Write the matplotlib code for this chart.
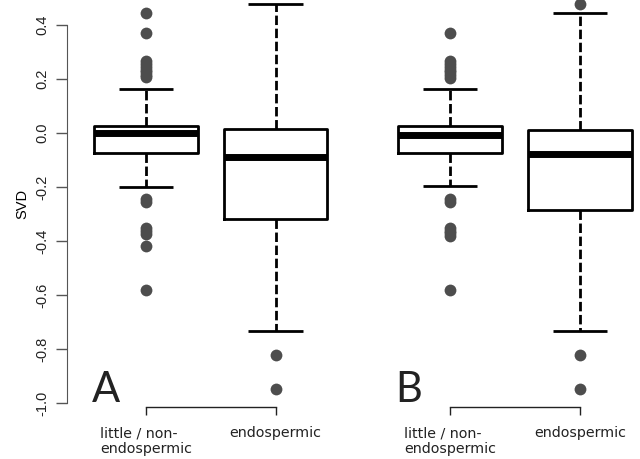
import numpy as np
import matplotlib.pyplot as plt

# values
groups = ['little / non-\nendospermic', 'endospermic']
yticks = [-1.0, -0.8, -0.6, -0.4, -0.2, 0.0, 0.2, 0.4]

# panel A
a_med = [-0.001, -0.090]
a_q1 = [-0.075, -0.319]
a_q3 = [0.026, 0.013]
a_lo = [-0.200, -0.733]
a_hi = [0.163, 0.478]
a_fliers = [[0.446, 0.371, 0.265, 0.255, 0.245, 0.235, 0.225, 0.215, 0.206,
             -0.246, -0.257, -0.352, -0.362, -0.374, -0.417, -0.581],
            [-0.822, -0.949]]

# panel B
b_med = [-0.009, -0.078]
b_q1 = [-0.075, -0.285]
b_q3 = [0.026, 0.011]
b_lo = [-0.197, -0.733]
b_hi = [0.163, 0.443]
b_fliers = [[0.371, 0.265, 0.255, 0.245, 0.235, 0.225, 0.213, 0.202,
             -0.246, -0.257, -0.352, -0.362, -0.372, -0.380, -0.581],
            [0.478, -0.822, -0.949]]

W, H = 640, 459
fig = plt.figure(figsize=(W/100, H/100), dpi=100)

def px_y(p):  # pixel row -> data value
    return (133 - p) / 270.0

bottom = (H - 407) / H

# (left px, right px, px of group 1, px per group step)
layout = {'A': (67, 355, 146, 129.5), 'B': (371, 640, 450, 130.0)}
letter_px = {'A': 92, 'B': 395}

def draw(letter, med, q1, q3, lo, hi, fl):
    l, r, c1, step = layout[letter]
    ax = fig.add_axes([l/W, bottom, (r-l)/W, 1 - bottom])
    stats = []
    for i in range(2):
        stats.append(dict(med=med[i], q1=q1[i], q3=q3[i], whislo=lo[i],
                          whishi=hi[i], fliers=fl[i]))
    ax.bxp(stats, positions=[1, 2], widths=0.8, capwidths=0.42,
           boxprops=dict(color='black', lw=2.0),
           whiskerprops=dict(color='black', lw=2.0, linestyle=(0, (3.4, 1.3))),
           capprops=dict(color='black', lw=2.0, solid_capstyle='butt'),
           medianprops=dict(color='black', lw=5.0, solid_capstyle='butt'),
           flierprops=dict(marker='o', markerfacecolor='#4d4d4d',
                           markeredgecolor='none', markersize=8.5),
           manage_ticks=False)
    ax.set_xlim(1 + (l - c1)/step, 1 + (r - c1)/step)
    ax.set_ylim(px_y(407), px_y(0))
    for s in ['top', 'right']:
        ax.spines[s].set_visible(False)
    ax.spines['bottom'].set_bounds(1, 2)
    ax.spines['bottom'].set_color('#222222')
    ax.spines['bottom'].set_linewidth(1.0)
    ax.set_xticks([1, 2])
    ax.set_xticklabels(groups, fontsize=10.3, family='DejaVu Sans',
                       multialignment='left', color='#222222',
                       linespacing=1.1)
    ax.tick_params(axis='x', length=6, width=1.0, color='#222222', pad=8)
    ax.text(1 + (letter_px[letter] - c1)/step, px_y(402), letter,
            fontsize=30, family='Lato', color='#222222',
            ha='left', va='baseline')
    return ax

axA = draw('A', a_med, a_q1, a_q3, a_lo, a_hi, a_fliers)
axB = draw('B', b_med, b_q1, b_q3, b_lo, b_hi, b_fliers)

axA.spines['left'].set_bounds(-1.0, 0.4)
axA.spines['left'].set_color('#555555')
axA.set_yticks(yticks)
axA.set_yticklabels(['%.1f' % v for v in yticks], rotation=90, va='center',
                    fontsize=10.5, family='Liberation Sans', color='#222222')
axA.tick_params(axis='y', length=8, width=1.0, color='#555555', pad=5)
axA.set_ylabel('SVD', fontsize=10.5, family='Liberation Sans', labelpad=4)

axB.spines['left'].set_visible(False)
axB.set_yticks([])

fig.savefig('out.png', dpi=100)
